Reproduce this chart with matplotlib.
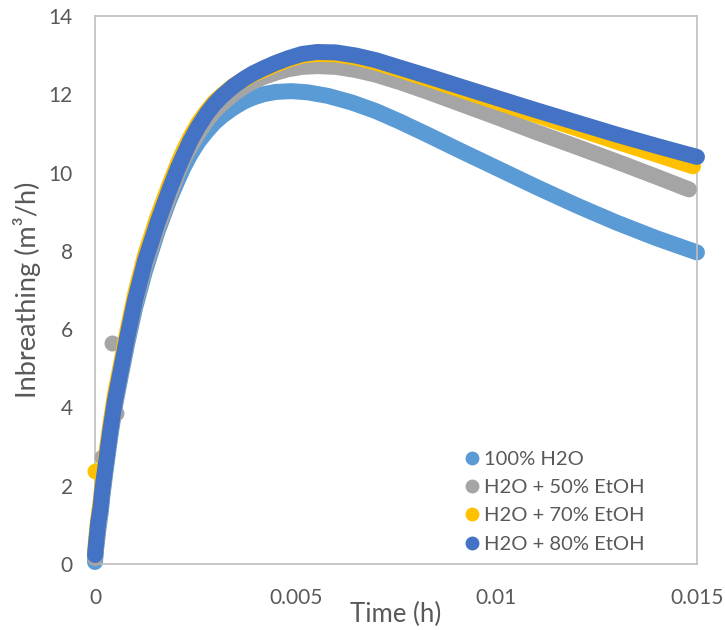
import matplotlib
matplotlib.use("Agg")
import matplotlib.pyplot as plt
from matplotlib.lines import Line2D

plt.rcParams['font.family'] = ['Lato', 'DejaVu Sans']

# series: time (h) and inbreathing (m3/h)
t_h2o = [0, 0.00003, 0.00008, 0.00014, 0.00018, 0.00026, 0.00038, 0.0005, 0.00065, 0.0008,
         0.001, 0.00125, 0.00156, 0.00185, 0.00206, 0.0022, 0.00237, 0.00257, 0.00278, 0.00297,
         0.00317, 0.00344, 0.00372, 0.00395, 0.00419, 0.0045, 0.0049, 0.0053, 0.0058, 0.0064,
         0.007, 0.0076, 0.0083, 0.0091, 0.01, 0.011, 0.012, 0.013, 0.014, 0.015]
y_h2o = [0.05, 0.40, 0.85, 1.30, 1.70, 2.35, 3.25, 4.05, 4.85, 5.62,
         6.55, 7.50, 8.50, 9.30, 9.80, 10.12, 10.45, 10.78, 11.05, 11.27,
         11.45, 11.65, 11.82, 11.92, 12.00, 12.06, 12.08, 12.05, 11.96, 11.79,
         11.57, 11.30, 10.96, 10.56, 10.12, 9.63, 9.16, 8.72, 8.32, 7.96]

t_50 = [0, 0.00003, 0.00008, 0.00014, 0.00018, 0.00026, 0.00038, 0.0005, 0.00065, 0.0008,
        0.001, 0.00125, 0.00156, 0.00185, 0.00206, 0.0022, 0.00237, 0.00257, 0.00278, 0.00297,
        0.00317, 0.00344, 0.00372, 0.00395, 0.00419, 0.0045, 0.00481, 0.00516, 0.00553, 0.006,
        0.0065, 0.007, 0.0076, 0.0083, 0.0091, 0.01, 0.011, 0.012, 0.013, 0.014, 0.0148]
y_50 = [0.15, 0.50, 0.95, 1.40, 1.80, 2.45, 3.35, 4.12, 4.92, 5.70,
        6.65, 7.62, 8.58, 9.38, 9.98, 10.32, 10.65, 11.00, 11.32, 11.57,
        11.76, 12.00, 12.20, 12.33, 12.44, 12.55, 12.64, 12.70, 12.72, 12.70,
        12.62, 12.50, 12.31, 12.06, 11.76, 11.42, 11.03, 10.66, 10.28, 9.89, 9.57]
t_50_odd = [0.00017, 0.00042, 0.00052]
y_50_odd = [2.74, 5.64, 3.85]

t_70 = [0, 0.00003, 0.00008, 0.00014, 0.00018, 0.00026, 0.00038, 0.0005, 0.00065, 0.0008,
        0.001, 0.00125, 0.00156, 0.00185, 0.00206, 0.0022, 0.00237, 0.00257, 0.00278, 0.00297,
        0.00317, 0.00344, 0.00372, 0.00395, 0.00419, 0.0045, 0.00481, 0.00516, 0.00553, 0.006,
        0.0065, 0.007, 0.0076, 0.0083, 0.0091, 0.01, 0.011, 0.012, 0.013, 0.014, 0.0149]
y_70 = [0.30, 0.65, 1.15, 1.60, 2.00, 2.65, 3.55, 4.35, 5.12, 5.92,
        6.90, 7.90, 8.88, 9.68, 10.22, 10.55, 10.90, 11.26, 11.56, 11.80,
        11.98, 12.21, 12.38, 12.52, 12.62, 12.76, 12.88, 12.99, 13.03, 13.02,
        12.94, 12.81, 12.62, 12.39, 12.12, 11.81, 11.47, 11.13, 10.79, 10.46, 10.16]
t_70_odd = [0.00001]
y_70_odd = [2.38]

t_80 = [0, 0.00003, 0.00008, 0.00014, 0.00018, 0.00026, 0.00038, 0.0005, 0.00065, 0.0008,
        0.001, 0.00125, 0.00156, 0.00185, 0.00206, 0.0022, 0.00237, 0.00257, 0.00278, 0.00297,
        0.00317, 0.00344, 0.00372, 0.00395, 0.00419, 0.0045, 0.00481, 0.00516, 0.00553, 0.006,
        0.0065, 0.007, 0.0076, 0.0083, 0.0091, 0.01, 0.011, 0.012, 0.013, 0.014, 0.015]
y_80 = [0.23, 0.55, 1.06, 1.45, 1.87, 2.49, 3.40, 4.19, 4.98, 5.78,
        6.75, 7.75, 8.73, 9.55, 10.10, 10.42, 10.80, 11.17, 11.50, 11.75,
        11.96, 12.20, 12.40, 12.54, 12.66, 12.80, 12.92, 13.03, 13.08, 13.07,
        12.99, 12.87, 12.68, 12.46, 12.20, 11.91, 11.59, 11.28, 10.97, 10.68, 10.40]

labels = ['100% H2O', 'H2O + 50% EtOH', 'H2O + 70% EtOH', 'H2O + 80% EtOH']
colors = ['#5B9BD5', '#A5A5A5', '#FFC000', '#4472C4']
x_ticks = [0, 0.005, 0.01, 0.015]
x_tick_labels = ['0', '0.005', '0.01', '0.015']
y_ticks = [0, 2, 4, 6, 8, 10, 12, 14]

series = [(t_h2o, y_h2o, [], []),
          (t_50, y_50, t_50_odd, y_50_odd),
          (t_70, y_70, t_70_odd, y_70_odd),
          (t_80, y_80, [], [])]

text_col = '#595959'
dot = 11.5  # marker diameter in points

fig = plt.figure(figsize=(7.25, 6.3), dpi=100)
ax = fig.add_axes([95 / 725, 1 - 564 / 630, 602 / 725, 548 / 630])

for i, (t, y, t_odd, y_odd) in enumerate(series):
    ax.plot(t, y, color=colors[i], lw=dot, solid_capstyle='round',
            solid_joinstyle='round', clip_on=False, zorder=2 + i)
    if t_odd:
        ax.plot(t_odd, y_odd, 'o', color=colors[i], ms=dot, mew=0,
                clip_on=False, zorder=2 + i)

ax.set_xlim(0, 0.015)
ax.set_ylim(0, 14)
ax.set_xticks(x_ticks)
ax.set_xticklabels(x_tick_labels)
ax.set_yticks(y_ticks)
ax.tick_params(length=0, labelsize=15, labelcolor=text_col)
ax.tick_params(axis='y', pad=16)
ax.tick_params(axis='x', pad=17)
for s in ax.spines.values():
    s.set_color('#BFBFBF')
    s.set_linewidth(1.2)

fig.text(27 / 725, 1 - 290 / 630, 'Inbreathing (m³/h)', rotation=90,
         ha='center', va='center', fontsize=19.5, color=text_col)
fig.text(396 / 725, 1 - 614 / 630, 'Time (h)', ha='center', va='center',
         fontsize=18.5, color=text_col)

handles = [Line2D([], [], ls='', marker='o', ms=10, mew=0, color=c) for c in colors]
leg = ax.legend(handles, labels, loc='upper left',
                bbox_to_anchor=(466 / 725, 1 - 451 / 630),
                bbox_transform=fig.transFigure, frameon=False,
                fontsize=14.5, handlelength=0.6, handletextpad=0.3,
                labelspacing=0.55, borderaxespad=0, borderpad=0)
for txt in leg.get_texts():
    txt.set_color(text_col)

fig.savefig('out.png', dpi=100)
